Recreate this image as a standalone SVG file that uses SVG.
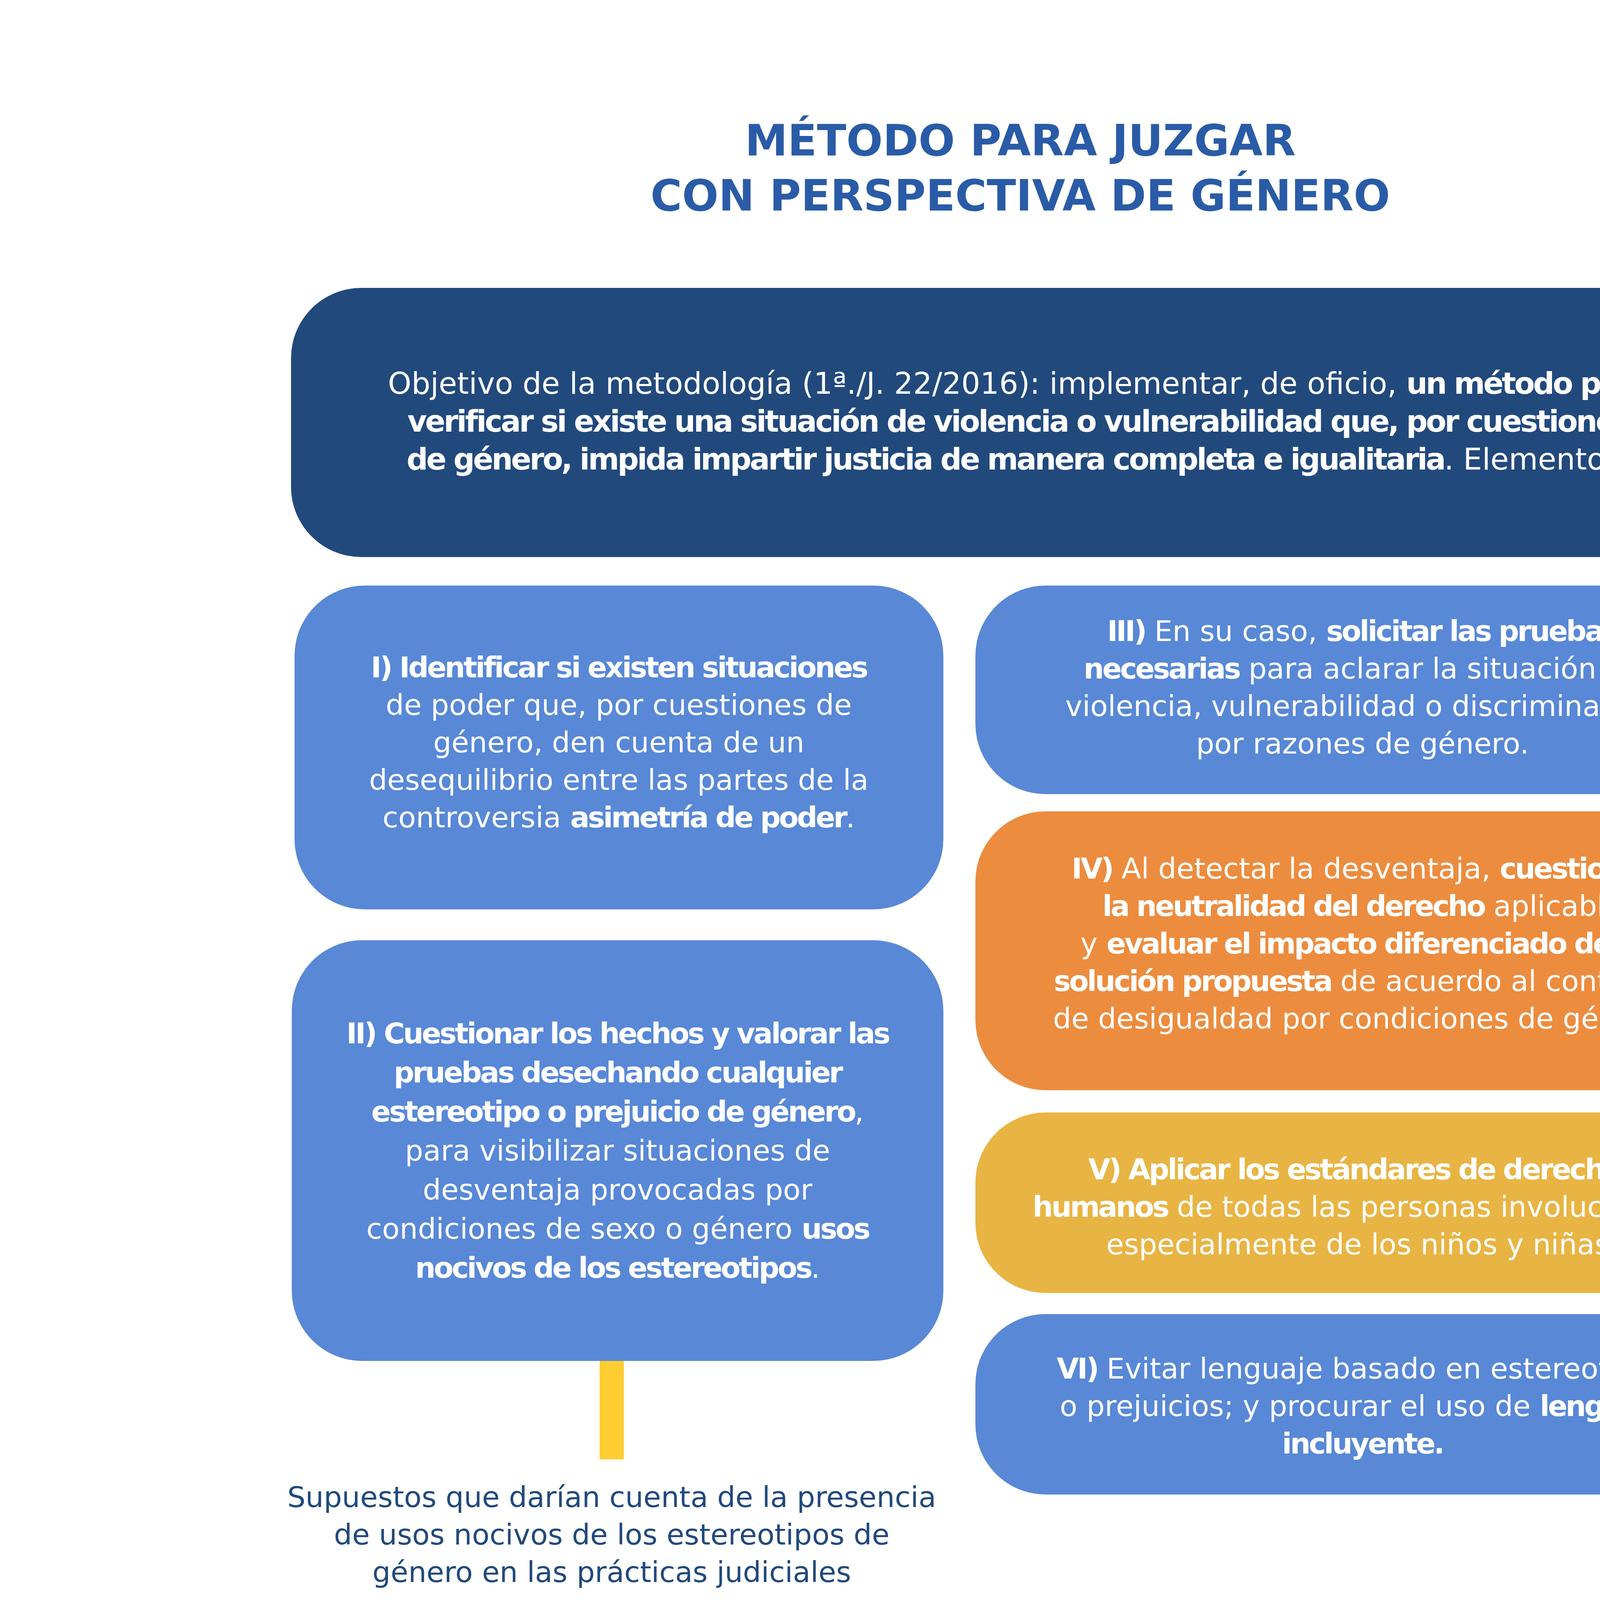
<svg xmlns="http://www.w3.org/2000/svg" width="5225" height="5632" viewBox="0 0 5225 5632">
<style>
.t{font-family:"DejaVu Sans","Noto Sans",sans-serif;font-size:73.5px;fill:#ffffff;text-anchor:middle}
.o{font-size:76.5px}
.d{fill:#21497c}
.b{font-weight:bold;letter-spacing:-4.5px}
.title{font-family:"DejaVu Sans","Noto Sans",sans-serif;font-weight:bold;font-size:110px;fill:#2a5ba6;text-anchor:middle}
.blue{fill:#5888d6}
.bar{fill:#ffcd31}
.br{fill:#fdc945}
</style>
<defs>
<path id="ah" d="M -30,-92 L -46,-108 A 19 19 0 0 0 -81,-97 L 0,0 L 81,-97 A 19 19 0 0 0 46,-108 L 30,-92 Z"/>
</defs>
<rect x="0" y="0" width="5225" height="5632" fill="#ffffff"/>

<g id="title">
<text class="title" x="2612" y="398">MÉTODO PARA JUZGAR</text>
<text class="title" x="2612" y="539">CON PERSPECTIVA DE GÉNERO</text>
</g>

<g id="objetivo">
<rect x="745" y="737" width="3740" height="689" rx="180" ry="180" fill="#21497c"/>
<text class="t o" x="2608" y="1008">Objetivo de la metodología (1ª./J. 22/2016): implementar, de oficio, <tspan class="b">un método para</tspan></text>
<text class="t o" x="2608" y="1105"><tspan class="b">verificar si existe una situación de violencia o vulnerabilidad que, por cuestiones</tspan></text>
<text class="t o" x="2608" y="1202"><tspan class="b">de género, impida impartir justicia de manera completa e igualitaria</tspan>. Elementos:</text>
</g>

<g id="elemento-I">
<rect class="blue" x="754" y="1499" width="1661" height="829" rx="180" ry="180"/>
<text class="t" x="1584" y="1734"><tspan class="b">I) Identificar si existen situaciones</tspan></text>
<text class="t" x="1584" y="1830">de poder que, por cuestiones de</text>
<text class="t" x="1584" y="1926">género, den cuenta de un</text>
<text class="t" x="1584" y="2022">desequilibrio entre las partes de la</text>
<text class="t" x="1584" y="2118">controversia <tspan class="b">asimetría de poder</tspan>.</text>
</g>

<g id="elemento-II">
<rect class="blue" x="747" y="2407" width="1668" height="1077" rx="180" ry="180"/>
<text class="t" x="1581" y="2671"><tspan class="b">II) Cuestionar los hechos y valorar las</tspan></text>
<text class="t" x="1581" y="2771"><tspan class="b">pruebas desechando cualquier</tspan></text>
<text class="t" x="1581" y="2871"><tspan class="b">estereotipo o prejuicio de género</tspan>,</text>
<text class="t" x="1581" y="2971">para visibilizar situaciones de</text>
<text class="t" x="1581" y="3071">desventaja provocadas por</text>
<text class="t" x="1581" y="3171">condiciones de sexo o género <tspan class="b">usos</tspan></text>
<text class="t" x="1581" y="3271"><tspan class="b">nocivos de los estereotipos</tspan>.</text>
</g>

<g id="elemento-III">
<rect class="blue" x="2497" y="1499" width="1982" height="534" rx="180" ry="180"/>
<text class="t" x="3488" y="1641"><tspan class="b">III)</tspan> En su caso, <tspan class="b">solicitar las pruebas</tspan></text>
<text class="t" x="3488" y="1737"><tspan class="b">necesarias</tspan> para aclarar la situación de</text>
<text class="t" x="3488" y="1833">violencia, vulnerabilidad o discriminación</text>
<text class="t" x="3488" y="1929">por razones de género.</text>
</g>

<g id="elemento-IV">
<rect x="2497" y="2077" width="1982" height="714" rx="180" ry="180" fill="#ec8c3e"/>
<text class="t" x="3488" y="2249"><tspan class="b">IV)</tspan> Al detectar la desventaja, <tspan class="b">cuestionar</tspan></text>
<text class="t" x="3488" y="2345"><tspan class="b">la neutralidad del derecho</tspan> aplicable</text>
<text class="t" x="3488" y="2441">y <tspan class="b">evaluar el impacto diferenciado de la</tspan></text>
<text class="t" x="3488" y="2537"><tspan class="b">solución propuesta</tspan> de acuerdo al contexto</text>
<text class="t" x="3488" y="2633">de desigualdad por condiciones de género.</text>
</g>

<g id="elemento-V">
<rect x="2497" y="2848" width="1982" height="462" rx="180" ry="180" fill="#e8b443"/>
<text class="t" x="3488" y="3019"><tspan class="b">V) Aplicar los estándares de derechos</tspan></text>
<text class="t" x="3488" y="3115"><tspan class="b">humanos</tspan> de todas las personas involucradas,</text>
<text class="t" x="3488" y="3211">especialmente de los niños y niñas.</text>
</g>

<g id="elemento-VI">
<rect class="blue" x="2497" y="3364" width="1982" height="462" rx="180" ry="180"/>
<text class="t" x="3488" y="3529"><tspan class="b">VI)</tspan> Evitar lenguaje basado en estereotipos</text>
<text class="t" x="3488" y="3625">o prejuicios; y procurar el uso de <tspan class="b">lenguaje</tspan></text>
<text class="t" x="3488" y="3721"><tspan class="b">incluyente.</tspan></text>
</g>

<g id="supuestos">
<text class="t d" x="1566" y="3858">Supuestos que darían cuenta de la presencia</text>
<text class="t d" x="1566" y="3954">de usos nocivos de los estereotipos de</text>
<text class="t d" x="1566" y="4050">género en las prácticas judiciales</text>
</g>

<g id="supuesto-A">
<rect class="blue" x="184" y="4498" width="1268" height="811" rx="180" ry="180"/>
<text class="t" x="818" y="4697"><tspan class="b">A.</tspan> Cuando se considera</text>
<text class="t" x="818" y="4793">relevante un hecho o una</text>
<text class="t" x="818" y="4889">prueba que no lo es, sobre</text>
<text class="t" x="818" y="4985">la base de un estereotipo o</text>
<text class="t" x="818" y="5081">prejuicio de género.</text>
</g>

<g id="supuesto-B">
<rect class="blue" x="1515" y="4498" width="1271" height="811" rx="180" ry="180"/>
<text class="t" x="2150" y="4697"><tspan class="b">B.</tspan> Cuando, debido a una</text>
<text class="t" x="2150" y="4793">visión estereotipada sobre</text>
<text class="t" x="2150" y="4889">el género, pasa</text>
<text class="t" x="2150" y="4985">desapercibido el impacto</text>
<text class="t" x="2150" y="5081">diferenciado que puede</text>
<text class="t" x="2150" y="5177">ocasionar esa categoría</text>
</g>

<g id="supuesto-C">
<rect class="blue" x="2835" y="4498" width="1266" height="811" rx="180" ry="180"/>
<text class="t" x="3468" y="4697"><tspan class="b">C.</tspan> Cuando un estereotipo</text>
<text class="t" x="3468" y="4793">o prejuicio de género se</text>
<text class="t" x="3468" y="4889">utiliza como máxima de</text>
<text class="t" x="3468" y="4985">experiencia para tener</text>
<text class="t" x="3468" y="5081">por probado un hecho</text>
</g>

<g id="connectors">
<rect class="bar" x="1535" y="3484" width="62" height="252"/>
<rect class="bar" x="1536" y="4126" width="61" height="200"/>
<rect class="bar" x="766" y="4306" width="2734" height="60"/>
<rect class="br" x="766" y="4306" width="60" height="194"/>
<use href="#ah" class="br" transform="translate(796,4585)"/>
<rect class="br" x="2134" y="4306" width="58" height="194"/>
<use href="#ah" class="br" transform="translate(2163,4585)"/>
<rect class="br" x="3442" y="4306" width="58" height="194"/>
<use href="#ah" class="br" transform="translate(3471,4585)"/>
</g>
</svg>
